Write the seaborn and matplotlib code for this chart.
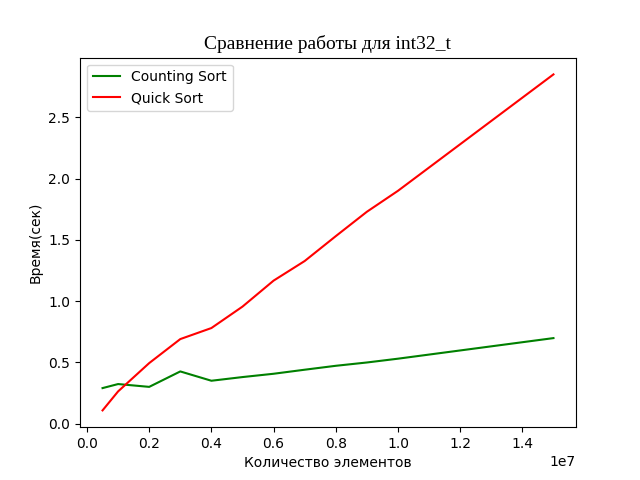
import numpy as np
import pandas as pd
import matplotlib
matplotlib.use("Agg")
import matplotlib.pyplot as plt
import seaborn as sns

# sizes of the arrays (elements)
sizes = [0.5e6, 1e6, 2e6, 3e6, 4e6, 5e6, 6e6, 7e6, 8e6, 9e6, 10e6, 15e6]
# time in seconds
counting_sort = [0.29, 0.323, 0.30, 0.426, 0.35, 0.38, 0.407, 0.44, 0.472, 0.499, 0.53, 0.698]
quick_sort = [0.108, 0.263, 0.494, 0.69, 0.78, 0.955, 1.167, 1.327, 1.53, 1.729, 1.9, 2.85]

df = pd.DataFrame({
    "n": sizes * 2,
    "t": counting_sort + quick_sort,
    "algo": ["Counting Sort"] * len(sizes) + ["Quick Sort"] * len(sizes),
})

fig, ax = plt.subplots(figsize=(6.4, 4.8), dpi=100)
sns.lineplot(data=df, x="n", y="t", hue="algo",
             palette={"Counting Sort": "green", "Quick Sort": "red"}, ax=ax)

ax.set_title("Сравнение работы для int32_t", family="Liberation Serif", fontsize=14)
ax.set_xlabel("Количество элементов")
ax.set_ylabel("Время(сек)")
ax.legend(loc="upper left")

fig.savefig("out.png")
